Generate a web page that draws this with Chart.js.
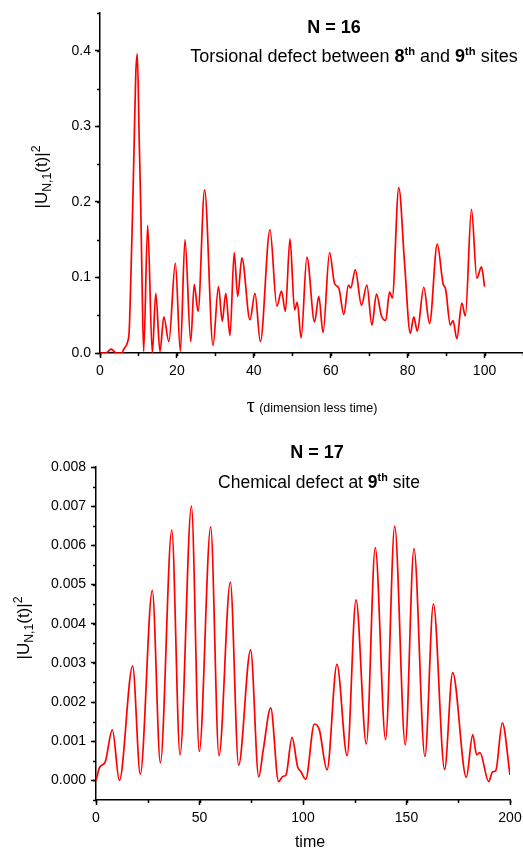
<!DOCTYPE html>
<html>
<head>
<meta charset="utf-8">
<script src="https://cdn.jsdelivr.net/npm/chart.js@4.4.1/dist/chart.umd.min.js"></script>
<style>
  body { margin: 0; background: #fff; font-family: 'Liberation Sans', Arial, sans-serif; color: #000; }
  #page { position: relative; width: 523px; height: 852px; overflow: hidden; }
  canvas { position: absolute; left: 0; }
  .lbl { position: absolute; white-space: nowrap; transform: translate(-50%, -50%); color: #000; }
  .ylbl { position: absolute; width: 120px; height: 24px; line-height: 24px; text-align: center;
          white-space: nowrap; font-size: 17px; color: #000; transform: rotate(-90deg); }
  .ylbl sub, .ylbl sup { font-size: 72%; line-height: 0; }
  sup { font-size: 62%; }
</style>
</head>
<body>
<div id="page">
  <canvas id="top" width="523" height="420" style="top:0"></canvas>
  <canvas id="bottom" width="523" height="432" style="top:420px"></canvas>

  <div class="lbl" style="left:334px; top:27px; font-size:18px; font-weight:bold;">N = 16</div>
  <div class="lbl" style="left:354px; top:56px; font-size:18px;">Torsional defect between <b>8<sup>th</sup></b> and <b>9<sup>th</sup></b> sites</div>
  <div class="ylbl" style="left:-18px; top:165px;">|U<sub>N,1</sub>(t)|<sup>2</sup></div>
  <div class="lbl" style="left:312px; top:405px;"><span style="font-family:'Liberation Serif',serif; font-size:20px;">&tau;</span> <span style="font-size:12.5px;">(dimension less time)</span></div>

  <div class="lbl" style="left:317px; top:452px; font-size:18px; font-weight:bold;">N = 17</div>
  <div class="lbl" style="left:319px; top:482px; font-size:17.5px;">Chemical defect at <b>9<sup>th</sup></b> site</div>
  <div class="ylbl" style="left:-36px; top:616px;">|U<sub>N,1</sub>(t)|<sup>2</sup></div>
  <div class="lbl" style="left:310px; top:842px; font-size:16px;">time</div>
</div>
<script>
// N = 16, torsional defect
const tau1 = [0, 1.5, 2.9, 4.3, 5.6, 6.3, 7.2, 7.6, 8.05, 8.5, 8.9, 9.3, 9.7, 10.2, 10.6, 10.9, 11.35,
  12.4, 13.6, 14.5, 15.6, 16.6, 17.9, 19.6, 20.9, 22.1, 23.6, 24.5, 25.5, 27.2, 29.4,
  30.8, 31.8, 32.7, 33.8, 34.9, 35.8, 36.9, 39.0, 40.3, 41.7, 44.2, 46.0, 47.2, 48.2, 49.4,
  50.6, 51.3, 52.3, 53.8, 55.8, 56.9, 58.0, 59.7, 61.0, 62.1, 63.4, 64.6, 65.2, 66.4, 68.0, 69.4,
  70.7, 71.9, 73.2, 74.3, 75.3, 76.0, 77.7, 79.2, 80.7, 81.6, 82.5, 84.2, 85.7, 87.7, 89.2, 89.9,
  91.1, 91.8, 92.8, 94.1, 95.0, 96.6, 98.0, 99.2, 100];
const u1 = [0, 0, 0.005, 0, 0, 0.006, 0.015, 0.03, 0.105, 0.193, 0.281, 0.369, 0.396, 0.281, 0.193, 0.105, 0.002,
  0.169, 0.0, 0.079, 0.002, 0.048, 0.015, 0.119, 0.002, 0.150, 0.015, 0.091, 0.055, 0.216, 0.010,
  0.088, 0.042, 0.079, 0.023, 0.133, 0.075, 0.126, 0.044, 0.079, 0.015, 0.163, 0.062, 0.082, 0.055, 0.151,
  0.057, 0.067, 0.020, 0.127, 0.041, 0.075, 0.027, 0.133, 0.092, 0.086, 0.051, 0.090, 0.086, 0.110, 0.063, 0.090,
  0.037, 0.078, 0.049, 0.043, 0.081, 0.073, 0.219, 0.119, 0.026, 0.048, 0.029, 0.087, 0.039, 0.144, 0.092, 0.084,
  0.037, 0.043, 0.019, 0.066, 0.049, 0.190, 0.099, 0.114, 0.088];

// N = 17, chemical defect
const t2 = [0, 1.9, 4.3, 7.9, 11.3, 17.7, 21.4, 27.2, 31.1, 36.6, 40.6, 46.1, 49.9, 55.4, 59.4, 64.9, 68.9,
  74.7, 78.6, 80.8, 84.4, 88.2, 90.2, 91.8, 94.7, 97.4, 99.0, 101.3, 105.5, 107.9, 111.6, 116.4, 121.3,
  125.6, 130.6, 134.9, 139.9, 144.3, 149.4, 153.6, 158.9, 163.0, 168.4, 172.3, 178.9, 182.0, 183.9, 185.5,
  189.7, 191.6, 193.1, 196.3, 200];
const u2 = [0, 0.00035, 0.00045, 0.00129, 0.0, 0.00292, 0.00016, 0.00485, 0.00045, 0.00639, 0.00065, 0.00700, 0.00074, 0.00647, 0.00063, 0.00506, 0.00039,
  0.00333, 0.00009, 0.00078, 0.00185, -0.00003, 0.0001, 0.00014, 0.0011, 0.00035, 0.00022, 0.00003, 0.00144, 0.00129, 0.00027, 0.00296, 0.00063,
  0.00461, 0.00093, 0.00594, 0.00104, 0.00649, 0.00091, 0.00592, 0.00061, 0.00451, 0.00028, 0.00275, 0.00008, 0.00117, 0.00065, 0.00071,
  -0.00003, 0.00022, 0.00025, 0.00147, 0.00014];

Chart.defaults.font.family = "'Liberation Sans', Arial, sans-serif";
Chart.defaults.font.size = 14;
Chart.defaults.color = '#000';

// short outward minor ticks, drawn through the chart's own scales
const minorTicks = {
  id: 'minorTicks',
  afterDraw(chart, args, opts) {
    const ctx = chart.ctx;
    const xs = chart.scales.x, ys = chart.scales.y;
    ctx.save();
    ctx.strokeStyle = '#000';
    ctx.lineWidth = 1.5;
    ctx.beginPath();
    for (let v = xs.min; v <= xs.max + 1e-9; v += opts.x) {
      const px = Math.round(xs.getPixelForValue(v)) + 0.5;
      ctx.moveTo(px, xs.top);
      ctx.lineTo(px, xs.top + 3);
    }
    for (let v = ys.min; v <= ys.max + 1e-12; v += opts.y) {
      const py = Math.round(ys.getPixelForValue(v)) + 0.5;
      ctx.moveTo(ys.right, py);
      ctx.lineTo(ys.right - 3, py);
    }
    ctx.stroke();
    ctx.restore();
  }
};

function makeChart(id, xs, ys, cfg) {
  return new Chart(document.getElementById(id), {
    type: 'line',
    data: {
      datasets: [{
        data: xs.map((x, i) => ({ x: x, y: ys[i] })),
        borderColor: '#ff0000',
        borderWidth: 1.7,
        pointRadius: 0,
        fill: false,
        cubicInterpolationMode: 'monotone'
      }]
    },
    options: {
      responsive: false,
      animation: false,
      devicePixelRatio: 1,
      layout: { padding: cfg.padding },
      plugins: {
        legend: { display: false },
        tooltip: { enabled: false },
        minorTicks: cfg.minor
      },
      scales: {
        x: {
          type: 'linear',
          min: cfg.xmin, max: cfg.xmax,
          afterFit: s => { s.height = cfg.xh; s.paddingLeft = 0; s.paddingRight = 0; },
          border: { color: '#000', width: 1.5 },
          grid: {
            drawOnChartArea: false, tickLength: 5, tickWidth: 1.5,
            tickColor: c => (c.tick && c.tick.value > cfg.xlast) ? 'rgba(0,0,0,0)' : '#000'
          },
          ticks: {
            stepSize: cfg.xstep, padding: 5, maxRotation: 0,
            callback: v => v > cfg.xlast ? '' : v
          }
        },
        y: {
          min: cfg.ymin, max: cfg.ymax,
          afterFit: s => { s.width = cfg.yw; s.paddingTop = 0; s.paddingBottom = 0; },
          border: { color: '#000', width: 1.5 },
          grid: {
            drawOnChartArea: false, tickLength: 5, tickWidth: 1.5,
            tickColor: c => (c.tick && (c.tick.value < -1e-9 || c.tick.value > cfg.ylast)) ? 'rgba(0,0,0,0)' : '#000'
          },
          ticks: {
            stepSize: cfg.ystep, padding: cfg.ypad,
            callback: v => (v < -1e-9 || v > cfg.ylast) ? '' : v.toFixed(cfg.ydec)
          }
        }
      }
    },
    plugins: [minorTicks]
  });
}

makeChart('top', tau1, u1, {
  padding: { top: 13, right: 0, left: 0, bottom: 0 },
  xmin: 0, xmax: 110, xstep: 20, xlast: 100, xh: 67,
  ymin: 0, ymax: 0.45, ystep: 0.1, ylast: 0.41, yw: 100, ydec: 1, ypad: 4,
  minor: { x: 10, y: 0.05 }
});

makeChart('bottom', t2, u2, {
  padding: { top: 47, right: 13, left: 0, bottom: 0 },
  xmin: 0, xmax: 200, xstep: 50, xlast: 200, xh: 52,
  ymin: -0.0005, ymax: 0.008, ystep: 0.001, ylast: 0.0081, yw: 96, ydec: 3, ypad: 5,
  minor: { x: 25, y: 0.0005 }
});
</script>
</body>
</html>
